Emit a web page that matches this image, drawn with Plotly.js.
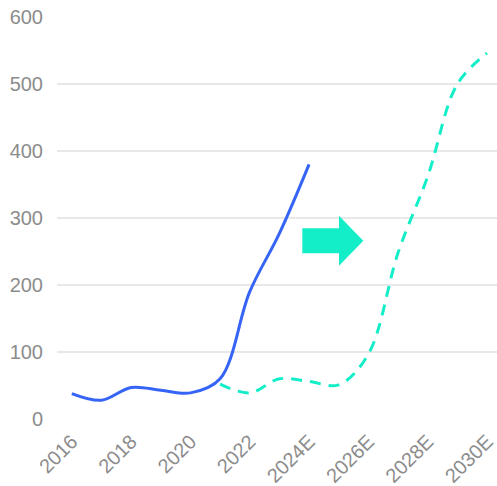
<!DOCTYPE html>
<html>
<head>
<meta charset="utf-8">
<script src="https://cdn.plot.ly/plotly-3.0.1.min.js"></script>
<style>
  html, body { margin: 0; padding: 0; background: #fff; overflow: hidden; }
  #chart { width: 497px; height: 486px; }
</style>
</head>
<body>
<div id="chart"></div>
<script>
// Years on the category axis
const years = ['2016', '2017', '2018', '2019', '2020', '2021', '2022', '2023',
               '2024E', '2025E', '2026E', '2027E', '2028E', '2029E', '2030E'];

// Historical series (2016 – 2024E)
const actualYears = years.slice(0, 9);
const actualValues = [38, 28, 47, 43, 39, 60, 190, 277, 380];

// Forecast series (2021 – 2030E)
const forecastYears = years.slice(5);
const forecastValues = [52, 39, 60, 56, 51, 97, 248, 362, 500, 546];

// Labelled ticks
const xTickLabels = ['2016', '2018', '2020', '2022', '2024E', '2026E', '2028E', '2030E'];
const yTickValues = [0, 100, 200, 300, 400, 500, 600];

const blue = '#3564f7';
const teal = '#14eec8';
const labelGrey = '#8c8c8c';

const traces = [
  {
    x: actualYears, y: actualValues, type: 'scatter', mode: 'lines',
    line: { color: blue, width: 3, shape: 'spline', smoothing: 1 },
    hoverinfo: 'x+y'
  },
  {
    x: forecastYears, y: forecastValues, type: 'scatter', mode: 'lines',
    line: { color: teal, width: 3, shape: 'spline', smoothing: 1, dash: '11px,8px' },
    hoverinfo: 'x+y'
  }
];

// Block arrow between the two series, in paper units
const arrowPath = 'M0.5575,0.4744 L0.6409,0.4744 L0.6409,0.5057 L0.6961,0.4435 ' +
                  'L0.6409,0.3813 L0.6409,0.4122 L0.5575,0.4122 Z';

const layout = {
  width: 497, height: 486,
  margin: { l: 57, r: 0, t: 17, b: 67 },
  paper_bgcolor: '#fff', plot_bgcolor: '#fff',
  showlegend: false,
  font: { family: 'Liberation Sans, Arial, sans-serif', size: 20, color: labelGrey },
  xaxis: {
    type: 'category',
    categoryarray: years, categoryorder: 'array',
    range: [-0.5, 14.337],
    tickvals: xTickLabels, ticktext: xTickLabels,
    tickangle: -45,
    showgrid: false, zeroline: false, showline: false,
    ticks: '', ticklabelstandoff: 6,
    tickfont: { size: 20, color: labelGrey }
  },
  yaxis: {
    range: [0, 600], tickvals: yTickValues,
    showgrid: true, gridcolor: '#e8e8e8', gridwidth: 1.5,
    zeroline: false, showline: false,
    ticks: '', ticklabelstandoff: 13,
    tickfont: { size: 20, color: labelGrey }
  },
  shapes: [
    { type: 'path', xref: 'paper', yref: 'paper', path: arrowPath,
      fillcolor: teal, line: { width: 0 }, layer: 'above' }
  ]
};

Plotly.newPlot('chart', traces, layout, { displayModeBar: false, staticPlot: true });
</script>
</body>
</html>
